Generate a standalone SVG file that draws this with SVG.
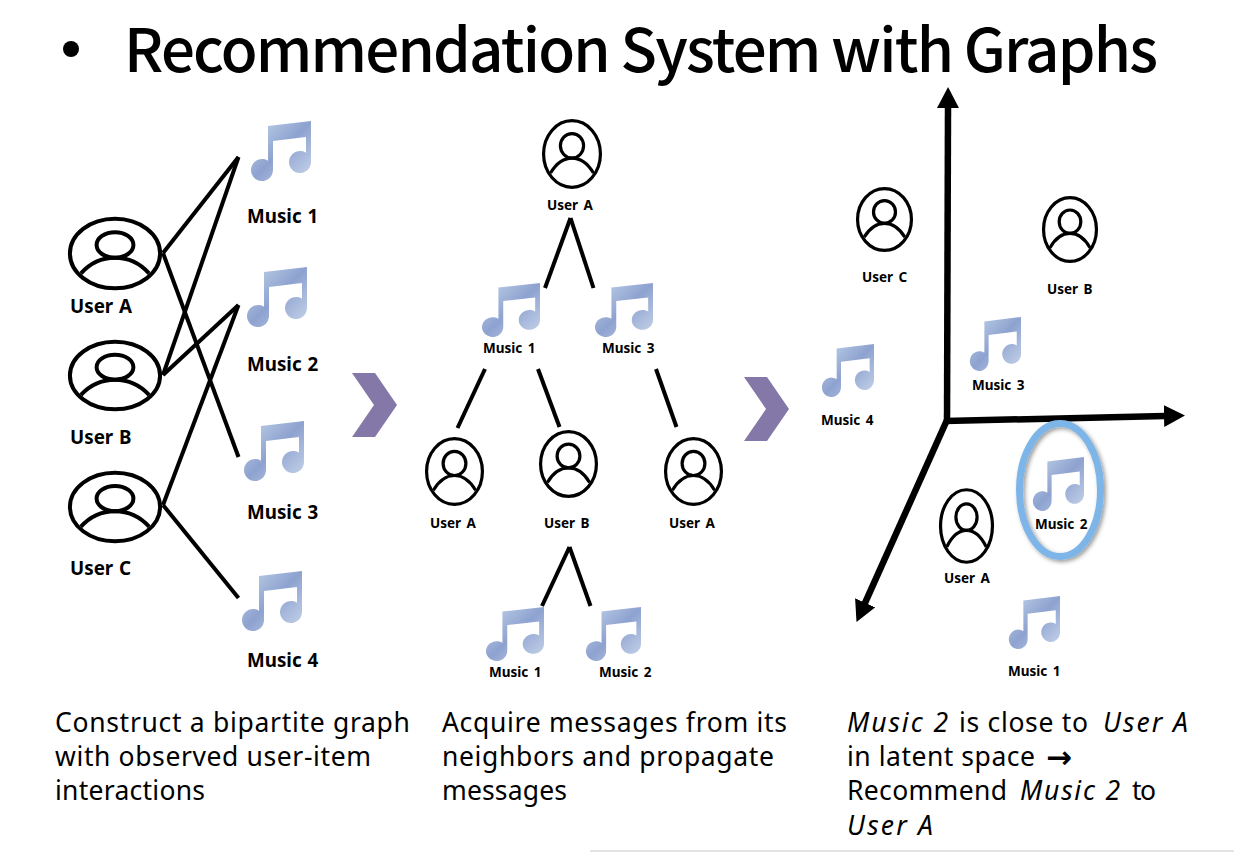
<svg xmlns="http://www.w3.org/2000/svg" width="1234" height="852" viewBox="0 0 1234 852">
<style>
text{font-family:"Noto Sans","Noto Sans CJK KR",sans-serif;fill:#000}
.t{font-family:"Noto Sans CJK KR","Noto Sans",sans-serif;font-size:60px;font-weight:500}
.b{font-size:26.5px}
.i{font-style:italic}
.l{font-size:18.800px;font-weight:700;word-spacing:1px}
.s{font-size:13.500px;font-weight:700;word-spacing:2px}
.big{stroke-width:4}
.sm{stroke-width:3.200}
.nss{vector-effect:non-scaling-stroke;fill:none;stroke:#000}
.c line{stroke:#000;stroke-width:4}
.a line{stroke:#000;stroke-width:6.500}
.chev{fill:#8478a8}
</style>
<defs>
<linearGradient id="g" x1="0" y1="0" x2="1" y2="1"><stop offset="0" stop-color="#c3d6ea"/><stop offset=".5" stop-color="#8ea2d0"/><stop offset="1" stop-color="#c8d6ea"/></linearGradient>
<symbol id="music" viewBox="0 0 61 60" preserveAspectRatio="none" overflow="visible"><path fill="url(#g)" d="M18 5L61 0V41A11 11 0 1 1 56 31.8V16L23 20V49A11 11 0 1 1 18 39.8Z"/></symbol>
<symbol id="user" viewBox="0 0 100 100" preserveAspectRatio="none" overflow="visible"><ellipse class="nss" cx="50" cy="50" rx="49" ry="49"/><ellipse class="nss" cx="50" cy="38" rx="20" ry="18"/><path class="nss" d="M13 78C24 62 37 56 50 56S76 62 87 78"/></symbol>
<marker id="ah" viewBox="0 0 21 22" refX="1" refY="11" markerWidth="21" markerHeight="22" orient="auto" markerUnits="userSpaceOnUse"><path d="M0 0L21 11L0 22Z"/></marker>
<filter id="sh" x="-20%" y="-20%" width="140%" height="140%"><feDropShadow dx="2" dy="2" stdDeviation="2" flood-color="#000" flood-opacity=".4"/></filter>
</defs>
<rect width="1234" height="852" fill="#fff"/>
<rect x="590" y="850" width="644" height="2" fill="#e4e4e4"/>
<g id="title"><circle cx="71" cy="49" r="8"/><text class="t" x="124" y="72" textLength="1034" lengthAdjust="spacing">Recommendation System with Graphs</text></g>
<g id="connectors">
<g class="c">
<line x1="163" y1="253" x2="238.500" y2="157"/><line x1="163" y1="253" x2="238.500" y2="457"/>
<line x1="163" y1="375" x2="238.500" y2="157"/><line x1="163" y1="375" x2="238.500" y2="305"/>
<line x1="163" y1="505" x2="238.500" y2="305"/><line x1="163" y1="505" x2="238.500" y2="598"/>
<line x1="570.500" y1="218" x2="545" y2="288"/><line x1="570.500" y1="218" x2="593.500" y2="288"/>
<line x1="485" y1="369" x2="457.500" y2="428"/><line x1="538" y1="369" x2="559.500" y2="427"/>
<line x1="656" y1="369" x2="676.500" y2="427"/>
<line x1="569.500" y1="547" x2="542" y2="606"/><line x1="569.500" y1="547" x2="590.500" y2="606"/>
</g>
<g class="a">
<line x1="947" y1="423" x2="948" y2="107" marker-end="url(#ah)"/>
<line x1="945" y1="421" x2="1165" y2="416" marker-end="url(#ah)"/>
<line x1="947" y1="420" x2="864.700" y2="603.700" marker-end="url(#ah)"/>
</g>
</g>
<path id="chevron1" class="chev" d="M352 373H375L397 405L375 437H352L374 405Z"/>
<path id="chevron2" class="chev" d="M744 377H767L789 409L767 441H744L766 409Z"/>
<g id="left-user-a"><use class="big" href="#user" x="69" y="218" width="92" height="71"/><text class="l" x="70" y="313">User A</text></g>
<g id="left-user-b"><use class="big" href="#user" x="69" y="341" width="92" height="69"/><text class="l" x="70" y="444">User B</text></g>
<g id="left-user-c"><use class="big" href="#user" x="69" y="472" width="92" height="70"/><text class="l" x="70" y="575">User C</text></g>
<g id="left-music-1"><use href="#music" x="250" y="121" width="61" height="60"/><text class="l" x="247" y="223">Music 1</text></g>
<g id="left-music-2"><use href="#music" x="246" y="267" width="61" height="60"/><text class="l" x="247" y="371">Music 2</text></g>
<g id="left-music-3"><use href="#music" x="243" y="421" width="61" height="60"/><text class="l" x="247" y="519">Music 3</text></g>
<g id="left-music-4"><use href="#music" x="241" y="571" width="61" height="60"/><text class="l" x="247" y="667">Music 4</text></g>
<g id="mid-user-top"><use class="sm" href="#user" x="543" y="120" width="58" height="68"/><text class="s" x="547" y="210">User A</text></g>
<g id="mid-music-1"><use href="#music" x="481" y="283" width="59" height="54"/><text class="s" x="483" y="353">Music 1</text></g>
<g id="mid-music-3"><use href="#music" x="594" y="283" width="59" height="54"/><text class="s" x="602" y="353">Music 3</text></g>
<g id="mid-user-a1"><use class="sm" href="#user" x="426" y="438" width="57" height="67"/><text class="s" x="430" y="528">User A</text></g>
<g id="mid-user-b"><use class="sm" href="#user" x="540" y="431" width="57" height="66"/><text class="s" x="544" y="528">User B</text></g>
<g id="mid-user-a2"><use class="sm" href="#user" x="665" y="438" width="57" height="67"/><text class="s" x="669" y="528">User A</text></g>
<g id="mid-music-1b"><use href="#music" x="485" y="607" width="59" height="54"/><text class="s" x="489" y="677">Music 1</text></g>
<g id="mid-music-2"><use href="#music" x="585" y="607" width="56" height="54"/><text class="s" x="599" y="677">Music 2</text></g>
<g id="r-user-c"><use class="sm" href="#user" x="857" y="188" width="55" height="63"/><text class="s" x="862" y="282">User C</text></g>
<g id="r-user-b"><use class="sm" href="#user" x="1043" y="197" width="54" height="65"/><text class="s" x="1047" y="294">User B</text></g>
<g id="r-music-3"><use href="#music" x="969" y="317" width="52" height="54"/><text class="s" x="972" y="390">Music 3</text></g>
<g id="r-music-4"><use href="#music" x="821" y="344" width="53" height="53"/><text class="s" x="821" y="425">Music 4</text></g>
<g id="r-user-a"><use class="sm" href="#user" x="940" y="489" width="53" height="74"/><text class="s" x="944" y="583">User A</text></g>
<g id="r-music-2"><ellipse cx="1060" cy="490" rx="40.500" ry="66.500" fill="none" stroke="#7db5e8" stroke-width="7" filter="url(#sh)"/><use href="#music" x="1032" y="457" width="52" height="54"/><text class="s" x="1035" y="529">Music 2</text></g>
<g id="r-music-1"><use href="#music" x="1008" y="596" width="52" height="53"/><text class="s" x="1008" y="676">Music 1</text></g>
<g id="captions">
<text class="b" x="55" y="732" textLength="355">Construct a bipartite graph</text>
<text class="b" x="55" y="766" textLength="316">with observed user-item</text>
<text class="b" x="55" y="800" textLength="150">interactions</text>
<text class="b" x="442" y="732" textLength="345">Acquire messages from its</text>
<text class="b" x="442" y="766" textLength="332">neighbors and propagate</text>
<text class="b" x="442" y="800" textLength="125">messages</text>
<text class="b i" x="847" y="732" textLength="101">Music 2</text>
<text class="b" x="959" y="732" textLength="129">is close to</text>
<text class="b i" x="1103" y="732" textLength="85">User A</text>
<text class="b" x="847" y="766" textLength="188">in latent space</text>
<text x="1046" y="768" style="font-family:'DejaVu Sans',sans-serif;font-size:31px;font-weight:700">→</text>
<text class="b" x="847" y="800" textLength="160">Recommend</text>
<text class="b i" x="1020" y="800" textLength="100">Music 2</text>
<text class="b" x="1132" y="800" textLength="24">to</text>
<text class="b i" x="847" y="835" textLength="86">User A</text>
</g>
</svg>
